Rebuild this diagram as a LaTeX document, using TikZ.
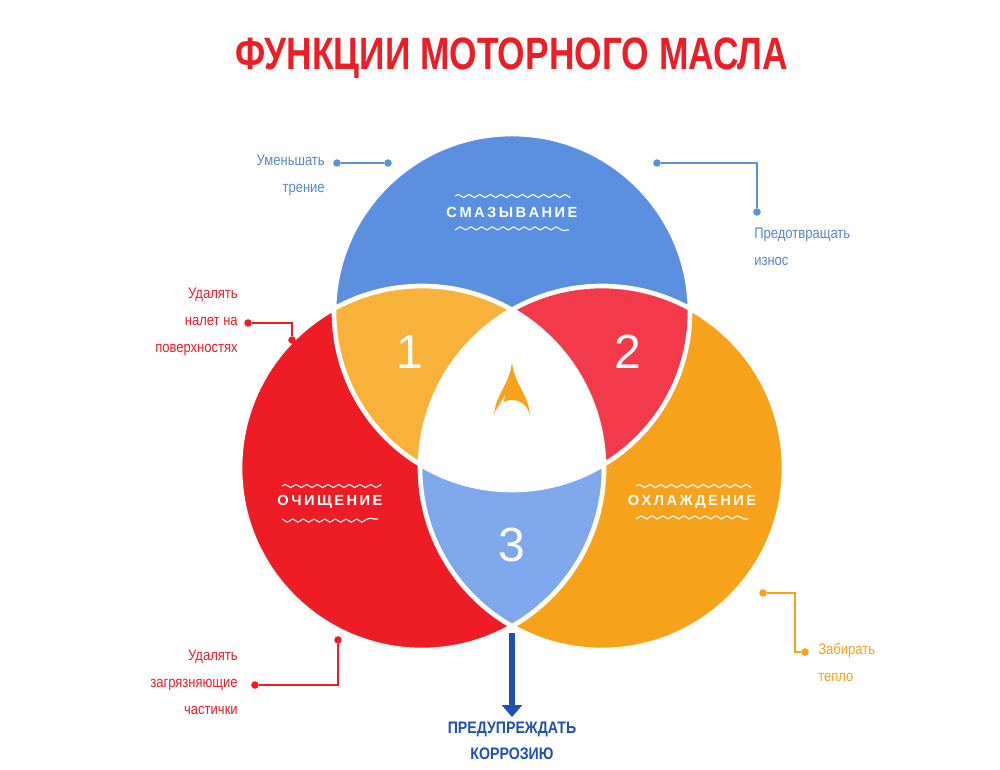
\documentclass[tikz,border=0pt]{standalone}
\usepackage{fontspec}
\setmainfont{Liberation Sans}
\newfontfamily\narrowf[FakeStretch=0.85]{Liberation Sans}
\newfontfamily\titlef[FakeStretch=0.78]{Liberation Sans}
\usetikzlibrary{decorations.pathmorphing,arrows.meta}
\definecolor{cblue}{HTML}{5B8FE0}
\definecolor{cred}{HTML}{EE1C25}
\definecolor{corange}{HTML}{F7A21B}
\definecolor{rone}{HTML}{F8B23A}
\definecolor{rtwo}{HTML}{F23A4A}
\definecolor{rthree}{HTML}{7FA8EC}
\definecolor{dblue}{HTML}{1F4FB0}
\definecolor{bluetxt}{HTML}{5A86C8}
\begin{document}
\begin{tikzpicture}[x=0.75pt,y=-0.75pt,
  lbl/.style={font=\narrowf\fontsize{11.5}{20}\selectfont,inner sep=0pt},
  region/.style={font=\bfseries\fontsize{11}{13}\selectfont,text=white},
  num/.style={font=\fontsize{36}{40}\selectfont,text=white},
  wave/.style={white,line width=0.8pt,decorate,decoration={snake,amplitude=1.2pt,segment length=8pt}},
  lead/.style={line width=0.9pt},
  dotm/.style={circle,fill,inner sep=2pt}]
\useasboundingbox (0,0) rectangle (1000,769);
\fill[white] (0,0) rectangle (1000,769);
\coordinate (B) at (512,312);
\coordinate (R) at (422,468);
\coordinate (O) at (602,468);
\def\rb{178}\def\rr{182}
\fill[cblue] (B) circle[radius=\rb];
\fill[cred] (R) circle[radius=\rr];
\fill[corange] (O) circle[radius=\rr];
\begin{scope}\clip (B) circle[radius=\rb];\fill[rone] (R) circle[radius=\rr];\fill[rtwo] (O) circle[radius=\rr];\end{scope}
\begin{scope}\clip (R) circle[radius=\rr];\fill[rthree] (O) circle[radius=\rr];\end{scope}
\begin{scope}\clip (R) circle[radius=\rr];\clip (O) circle[radius=\rr];\fill[white] (B) circle[radius=\rb];\end{scope}
\draw[white,line width=3.5pt] (B) circle[radius=\rb] (R) circle[radius=\rr] (O) circle[radius=\rr];
% drop
\fill[corange] (512,362) .. controls (514,385) and (530,395) .. (530,418) arc[start angle=0,end angle=-180,radius=18] .. controls (494,395) and (510,385) .. (512,362) -- cycle;
\fill[white] (505,395) .. controls (498,405) and (494,418) .. (496,428) .. controls (500,428) and (502,412) .. (505,395) -- cycle;
% title
\node[text=cred,font=\titlef\bfseries\fontsize{34}{36}\selectfont] (title) at (512,58) {ФУНКЦИИ МОТОРНОГО МАСЛА};
% region labels
\node[region] (sm) at (512,212) {С\,М\,А\,З\,Ы\,В\,А\,Н\,И\,Е};
\draw[wave] (455,196) -- (569,196) (455,230) -- (569,230);
\node[region] (och) at (330,502) {О\,Ч\,И\,Щ\,Е\,Н\,И\,Е};
\draw[wave] (282,486) -- (378,486) (282,519) -- (378,519);
\node[region] (ohl) at (692,502) {О\,Х\,Л\,А\,Ж\,Д\,Е\,Н\,И\,Е};
\draw[wave] (636,486) -- (748,486) (636,519) -- (748,519);
\node[num] (n1) at (410,352) {1};
\node[num] (n2) at (628,352) {2};
\node[num] (n3) at (512,545) {3};
% side labels
\node[lbl,text=bluetxt,align=right,anchor=north east] (t1) at (325,155) {Уменьшать\\трение};
\node[dotm,text=cblue,fill=cblue] (d1a) at (337,163) {};
\node[dotm,fill=cblue] (d1b) at (388,163) {};
\draw[lead,cblue] (d1a) -- (d1b);
\node[lbl,text=bluetxt,align=left,anchor=north west] (t2) at (754,228) {Предотвращать\\износ};
\node[dotm,fill=cblue] (d2a) at (657,163) {};
\node[dotm,fill=cblue] (d2b) at (757,212) {};
\draw[lead,cblue] (d2a) -| (d2b);
\node[lbl,text=cred,align=right,anchor=north east] (t3) at (238,288) {Удалять\\налет на\\поверхностях};
\node[dotm,fill=cred] (d3a) at (248,323) {};
\node[dotm,fill=cred] (d3b) at (292,340) {};
\draw[lead,cred] (d3a) -| (d3b);
\node[lbl,text=cred,align=right,anchor=north east] (t4) at (238,650) {Удалять\\загрязняющие\\частички};
\node[dotm,fill=cred] (d4a) at (255,685) {};
\node[dotm,fill=cred] (d4b) at (338,640) {};
\draw[lead,cred] (d4a) -| (d4b);
\node[lbl,text=corange,align=left,anchor=north west] (t5) at (818,643) {Забирать\\тепло};
\node[dotm,fill=corange] (d5a) at (763,593) {};
\node[dotm,fill=corange] (d5b) at (805,652) {};
\coordinate (k5) at (795,652);
\draw[lead,corange] (d5a) -| (k5) -- (d5b);
% arrow
\coordinate (a1) at (512,633);
\node[text=dblue,font=\narrowf\bfseries\fontsize{12.5}{20}\selectfont,align=center,anchor=north] (kor) at (512,717) {ПРЕДУПРЕЖДАТЬ\\КОРРОЗИЮ};
\draw[dblue,line width=5pt,-{Triangle[width=15pt,length=9pt]}] (a1) -- (kor.north);
\end{tikzpicture}
\end{document}
